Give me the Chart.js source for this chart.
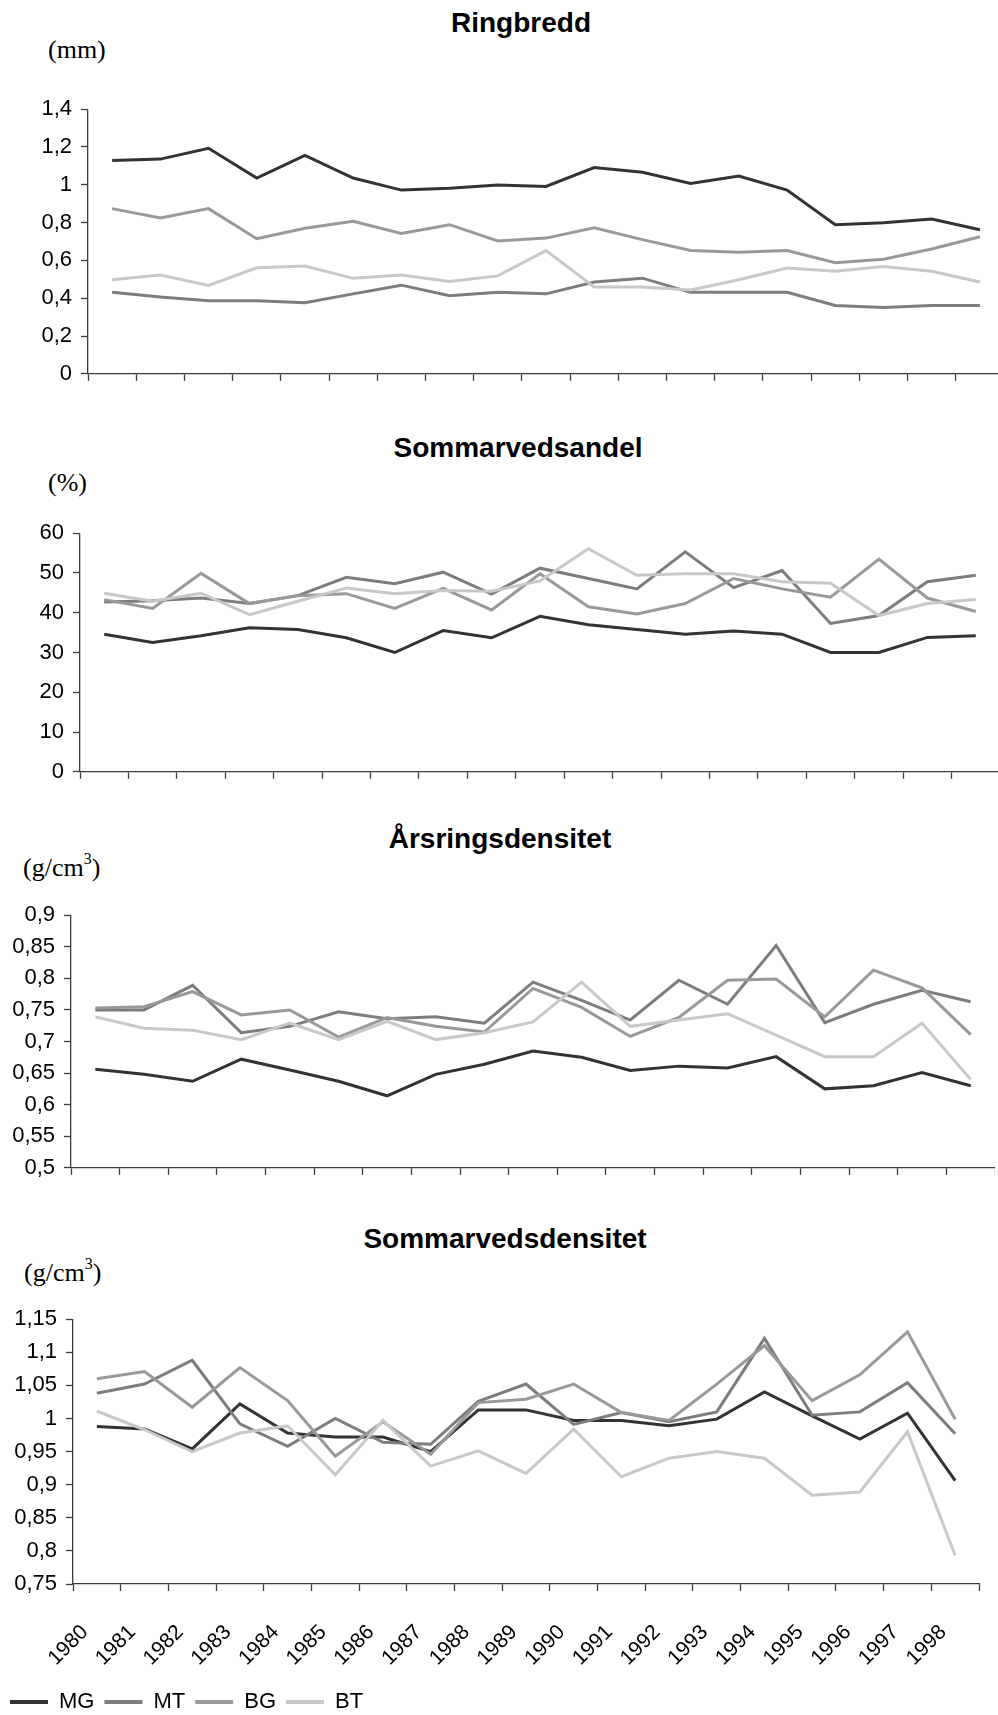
<!DOCTYPE html>
<html>
<head>
<meta charset="utf-8">
<script src="https://cdn.jsdelivr.net/npm/chart.js@4/dist/chart.umd.min.js"></script>
<style>
  html, body { margin: 0; padding: 0; background: #fff; overflow: hidden; width: 998px; height: 1715px; }
  #page { position: relative; width: 998px; height: 1715px; overflow: hidden; background: #fff; }
  canvas { position: absolute; left: 0; }
  .title { position: absolute; z-index: 2; font: bold 28px/28px "Liberation Sans", Arial, sans-serif; color: #000; white-space: nowrap; transform: translateX(-50%); }
  .unit { position: absolute; z-index: 2; font: 26px/26px "Liberation Serif", "Times New Roman", serif; color: #000; white-space: nowrap; }
  .unit sup { font-size: 16px; line-height: 0; position: relative; top: -2px; }
</style>
</head>
<body>
<div id="page">
  <div class="title" style="left:521px; top:9px;">Ringbredd</div>
  <div class="unit" style="left:48px; top:37px;">(mm)</div>
  <canvas id="ringbredd"></canvas>

  <div class="title" style="left:518px; top:434px;">Sommarvedsandel</div>
  <div class="unit" style="left:48px; top:470px;">(%)</div>
  <canvas id="andel"></canvas>

  <div class="title" style="left:500px; top:825px;">Årsringsdensitet</div>
  <div class="unit" style="left:23px; top:855px;">(g/cm<sup>3</sup>)</div>
  <canvas id="arsring"></canvas>

  <div class="title" style="left:505px; top:1225px;">Sommarvedsdensitet</div>
  <div class="unit" style="left:24px; top:1260px;">(g/cm<sup>3</sup>)</div>
  <canvas id="sommardens"></canvas>
</div>
<script>
// Years on the category axis
const years = ['1980', '1981', '1982', '1983', '1984', '1985', '1986', '1987', '1988', '1989',
               '1990', '1991', '1992', '1993', '1994', '1995', '1996', '1997', '1998'];

const seriesNames = ['MG', 'MT', 'BG', 'BT'];
const seriesColors = ['#333333', '#7d7d7d', '#999999', '#c8c8c8'];

// Ringbredd (mm)
const ringMG = [1.128, 1.136, 1.193, 1.036, 1.156, 1.036, 0.972, 0.982, 0.999, 0.991, 1.091, 1.066, 1.007, 1.046, 0.972, 0.789, 0.799, 0.819, 0.762];
const ringMT = [0.431, 0.406, 0.386, 0.386, 0.376, 0.423, 0.469, 0.413, 0.431, 0.423, 0.486, 0.506, 0.431, 0.431, 0.431, 0.361, 0.351, 0.361, 0.361];
const ringBG = [0.874, 0.825, 0.874, 0.715, 0.770, 0.807, 0.742, 0.789, 0.703, 0.718, 0.772, 0.710, 0.652, 0.643, 0.652, 0.588, 0.606, 0.660, 0.725];
const ringBT = [0.498, 0.523, 0.468, 0.561, 0.570, 0.505, 0.523, 0.488, 0.518, 0.652, 0.459, 0.459, 0.444, 0.498, 0.560, 0.543, 0.568, 0.543, 0.486];

// Sommarvedsandel (%)
const andelMG = [34.6, 32.5, 34.2, 36.2, 35.8, 33.7, 30.0, 35.5, 33.7, 39.1, 37.0, 35.8, 34.6, 35.4, 34.6, 30.0, 30.0, 33.8, 34.2];
const andelMT = [42.7, 43.0, 43.7, 42.3, 44.3, 48.9, 47.3, 50.2, 44.7, 51.2, 48.6, 46.0, 55.3, 46.3, 50.6, 37.3, 39.3, 47.8, 49.4];
const andelBG = [43.3, 41.1, 49.9, 42.3, 44.3, 44.8, 41.1, 46.1, 40.7, 49.8, 41.5, 39.7, 42.3, 48.6, 46.0, 43.9, 53.5, 43.7, 40.3];
const andelBT = [44.9, 42.9, 44.9, 39.5, 42.9, 46.2, 44.8, 45.6, 45.4, 48.0, 56.1, 49.4, 49.8, 49.8, 47.8, 47.4, 39.3, 42.3, 43.3];

// Årsringsdensitet (g/cm3)
const arsMG = [0.656, 0.648, 0.637, 0.672, 0.655, 0.637, 0.614, 0.648, 0.664, 0.685, 0.675, 0.654, 0.661, 0.658, 0.676, 0.625, 0.630, 0.651, 0.630];
const arsMT = [0.750, 0.750, 0.789, 0.714, 0.724, 0.747, 0.736, 0.739, 0.729, 0.794, 0.765, 0.734, 0.797, 0.759, 0.852, 0.730, 0.759, 0.781, 0.763];
const arsBG = [0.753, 0.755, 0.779, 0.742, 0.750, 0.707, 0.738, 0.724, 0.715, 0.784, 0.754, 0.708, 0.738, 0.797, 0.799, 0.739, 0.813, 0.785, 0.711];
const arsBT = [0.739, 0.721, 0.718, 0.703, 0.729, 0.703, 0.732, 0.703, 0.714, 0.731, 0.794, 0.724, 0.734, 0.744, 0.710, 0.676, 0.676, 0.729, 0.640];

// Sommarvedsdensitet (g/cm3)
const somMG = [0.988, 0.984, 0.954, 1.022, 0.978, 0.972, 0.972, 0.950, 1.013, 1.013, 0.997, 0.997, 0.989, 0.999, 1.040, 1.004, 0.969, 1.008, 0.906];
const somMT = [1.038, 1.052, 1.088, 0.992, 0.958, 1.000, 0.964, 0.961, 1.026, 1.052, 0.991, 1.009, 0.995, 1.010, 1.121, 1.005, 1.010, 1.054, 0.977];
const somBG = [1.060, 1.071, 1.017, 1.077, 1.027, 0.943, 0.995, 0.946, 1.024, 1.029, 1.052, 1.009, 0.997, 1.052, 1.110, 1.027, 1.066, 1.131, 0.999];
const somBT = [1.011, 0.983, 0.950, 0.978, 0.989, 0.915, 0.997, 0.928, 0.951, 0.917, 0.984, 0.912, 0.940, 0.950, 0.940, 0.884, 0.889, 0.980, 0.793];

// Y tick values for each panel
const ringTicks = [0, 0.2, 0.4, 0.6, 0.8, 1, 1.2, 1.4];
const andelTicks = [0, 10, 20, 30, 40, 50, 60];
const arsTicks = [0.5, 0.55, 0.6, 0.65, 0.7, 0.75, 0.8, 0.85, 0.9];
const somTicks = [0.75, 0.8, 0.85, 0.9, 0.95, 1, 1.05, 1.1, 1.15];

const SANS = '"Liberation Sans", Arial, sans-serif';
const AXIS = '#3c3c3c';
const fmt = v => String(Math.round(v * 100) / 100).replace('.', ',');

function buildChart(id, box, values, tickValues, withYears) {
  const canvas = document.getElementById(id);
  canvas.width = box.w;
  canvas.height = box.h;
  canvas.style.top = box.top + 'px';

  const legend = withYears ? {
    display: true,
    position: 'bottom',
    align: 'start',
    labels: {
      usePointStyle: true,
      pointStyle: 'line',
      pointStyleWidth: 38,
      padding: 10,
      color: '#000',
      font: { family: SANS, size: 22 },
      sort: (a, b) => a.datasetIndex - b.datasetIndex,
      generateLabels: chart => Chart.defaults.plugins.legend.labels.generateLabels(chart)
        .map(item => Object.assign(item, { lineWidth: 4 }))
    }
  } : { display: false };

  return new Chart(canvas, {
    type: 'line',
    data: {
      labels: years,
      datasets: seriesNames.map((name, i) => ({
        label: name,
        data: values[i],
        borderColor: seriesColors[i],
        backgroundColor: seriesColors[i],
        borderWidth: 3,
        pointRadius: 0,
        tension: 0,
        fill: false,
        order: seriesNames.length - i
      }))
    },
    options: {
      responsive: false,
      animation: false,
      events: [],
      layout: { padding: { left: 0, right: 0, top: box.padTop, bottom: box.padBottom } },
      plugins: { legend, tooltip: { enabled: false }, title: { display: false } },
      scales: {
        x: {
          type: 'category',
          offset: true,
          grid: { offset: true, drawOnChartArea: false, drawTicks: true, tickLength: 7, tickColor: AXIS, tickWidth: 1.3 },
          border: { display: true, color: AXIS, width: 1.3 },
          ticks: withYears ? {
            display: true, autoSkip: false, minRotation: 45, maxRotation: 45, padding: 29, labelOffset: -12,
            color: '#000', font: { family: SANS, size: 21 }
          } : { display: false },
          afterFit: s => { s.height = box.xh; }
        },
        y: {
          min: tickValues[0],
          max: tickValues[tickValues.length - 1],
          afterBuildTicks: s => { s.ticks = tickValues.map(v => ({ value: v })); },
          afterFit: s => { s.width = box.left; },
          grid: { drawOnChartArea: false, drawTicks: true, tickLength: 7, tickColor: AXIS, tickWidth: 1.3 },
          border: { display: true, color: AXIS, width: 1.3 },
          ticks: { padding: 9, color: '#000', font: { family: SANS, size: 22 }, callback: v => fmt(v) }
        }
      }
    }
  });
}

buildChart('ringbredd', { top: 87, h: 309, w: 1004, left: 88, padTop: 20, padBottom: 3, xh: 7 },
  [ringMG, ringMT, ringBG, ringBT], ringTicks, false);
buildChart('andel', { top: 511, h: 283, w: 1000, left: 80, padTop: 20, padBottom: 3, xh: 7 },
  [andelMG, andelMT, andelBG, andelBT], andelTicks, false);
buildChart('arsring', { top: 893, h: 297, w: 995, left: 71, padTop: 20, padBottom: 3, xh: 7 },
  [arsMG, arsMT, arsBG, arsBT], arsTicks, false);
buildChart('sommardens', { top: 1297, h: 426, w: 1002, left: 73, padTop: 20, padBottom: 0, xh: 97 },
  [somMG, somMT, somBG, somBT], somTicks, true);
</script>
</body>
</html>
